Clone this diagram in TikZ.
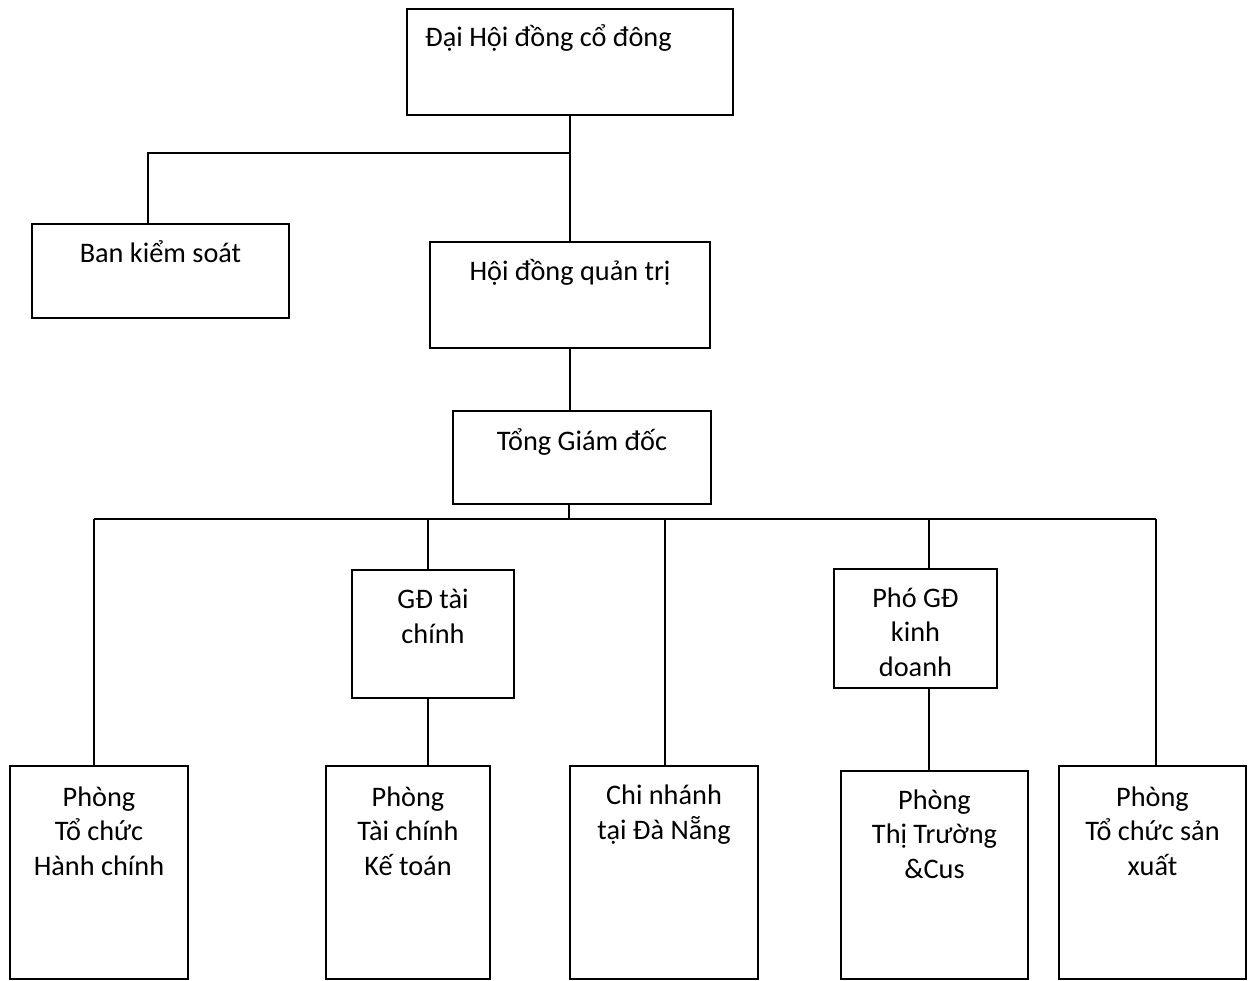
\documentclass[tikz,border=0pt]{standalone}
\usepackage{fontspec}
\setmainfont{Carlito}
\begin{document}
\begin{tikzpicture}[x=1pt,y=-1pt,
  box/.style={draw=black, line width=2.2pt, inner sep=0pt, fill=none},
  lbl/.style={anchor=base, align=center, inner sep=0pt, font=\fontsize{28.3}{34.5}\selectfont},
  wire/.style={draw=black, line width=2.2pt}]
\useasboundingbox[fill=white] (0,0) rectangle (1250,981);
% boxes
\node[box, minimum width=326pt, minimum height=106pt] (top) at (570,62) {};
\node[box, minimum width=257pt, minimum height=94pt] (bks) at (160.5,271) {};
\node[box, minimum width=280pt, minimum height=106pt] (hdqt) at (570,295) {};
\node[box, minimum width=258pt, minimum height=93pt] (tgd) at (582,457.5) {};
\node[box, minimum width=162pt, minimum height=128pt] (gdtc) at (433,634) {};
\node[box, minimum width=163pt, minimum height=119pt] (pgd) at (915.5,628.5) {};
\node[box, minimum width=178pt, minimum height=213pt] (b1) at (99,872.5) {};
\node[box, minimum width=164pt, minimum height=213pt] (b2) at (408,872.5) {};
\node[box, minimum width=188pt, minimum height=213pt] (b3) at (664,872.5) {};
\node[box, minimum width=187pt, minimum height=208pt] (b4) at (934.5,875) {};
\node[box, minimum width=187pt, minimum height=213pt] (b5) at (1152.5,872.5) {};
% labels (anchor base = baseline of the last line)
\node[lbl, anchor=base west] (ttop) at (425,47) {Đại Hội đồng cổ đông};
\node[lbl] (tbks) at (160.5,263) {Ban kiểm soát};
\node[lbl] (thdqt) at (570,281) {Hội đồng quản trị};
\node[lbl] (ttgd) at (582,450) {Tổng Giám đốc};
\node[lbl] (tgdtc) at (433,643) {GĐ tài\\chính};
\node[lbl] (tpgd) at (915.5,676) {Phó GĐ\\kinh\\doanh};
\node[lbl] (tb1) at (99,875) {Phòng\\Tổ chức\\Hành chính};
\node[lbl] (tb2) at (408,875) {Phòng\\Tài chính\\Kế toán};
\node[lbl] (tb3) at (664,839) {Chi nhánh\\tại Đà Nẵng};
\node[lbl] (tb4) at (934.5,878) {Phòng\\Thị Trường\\\&Cus};
\node[lbl] (tb5) at (1152.5,875) {Phòng\\Tổ chức sản\\xuất};
% junctions
\coordinate (j1) at (570,153);
\coordinate (j1l) at (148,153);
\coordinate (j2) at (569,519);
\coordinate (busl) at (94,519);
\coordinate (busr) at (1156,519);
\coordinate (xgd) at (428,519);
\coordinate (xcn) at (665,519);
\coordinate (xpg) at (929,519);
% connectors
\draw[wire] (top.south -| j1) -- (j1);
\draw[wire] (j1) -- (hdqt.north -| j1);
\draw[wire] (j1) -- (j1l) -- (j1l |- bks.north);
\draw[wire] (hdqt.south -| j1) -- (tgd.north -| j1);
\draw[wire] (tgd.south -| j2) -- (j2);
\draw[wire] (busl) -- (busr);
\draw[wire] (busl) -- (busl |- b1.north);
\draw[wire] (xgd) -- (xgd |- gdtc.north);
\draw[wire] (gdtc.south -| xgd) -- (xgd |- b2.north);
\draw[wire] (xcn) -- (xcn |- b3.north);
\draw[wire] (xpg) -- (xpg |- pgd.north);
\draw[wire] (pgd.south -| xpg) -- (xpg |- b4.north);
\draw[wire] (busr) -- (busr |- b5.north);
\end{tikzpicture}
\end{document}
